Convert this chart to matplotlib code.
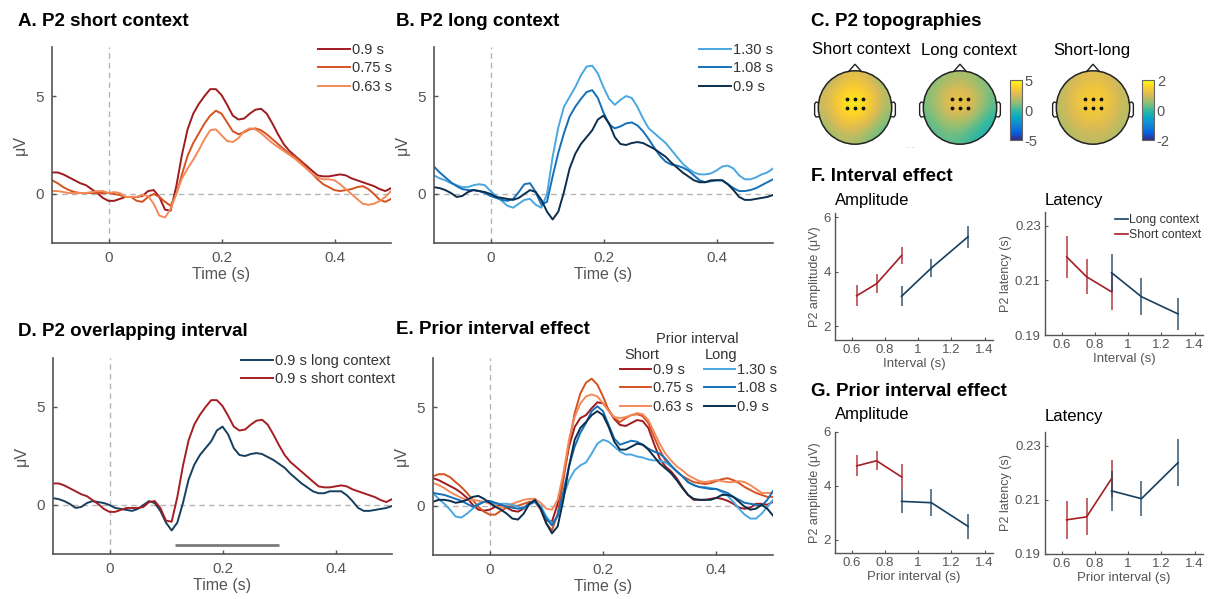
import numpy as np
import matplotlib
matplotlib.use('Agg')
import matplotlib.pyplot as plt
from matplotlib.colors import LinearSegmentedColormap
from matplotlib.patches import Circle, Polygon

plt.rcParams['font.family'] = ['Liberation Sans', 'DejaVu Sans']
plt.rcParams['axes.unicode_minus'] = False

# ---------------- data ----------------
time = np.linspace(-0.1, 0.5, 61)

# A. short context (current interval)
short_09 = [1.1, 1.1, 1.0, 0.85, 0.7, 0.55, 0.45, 0.25, 0.05, -0.2,
            -0.35, -0.35, -0.25, -0.15, -0.15, -0.15, -0.1, 0.15, 0.2, -0.15,
            -0.8, -0.85, 0.4, 2.0, 3.3, 4.1, 4.6, 5.0, 5.35, 5.35,
            5.05, 4.55, 4.0, 3.8, 3.85, 4.1, 4.3, 4.35, 4.1, 3.6,
            3.05, 2.55, 2.2, 1.95, 1.7, 1.45, 1.2, 0.95, 0.9, 0.9,
            0.95, 1.0, 0.95, 0.8, 0.7, 0.6, 0.5, 0.4, 0.25, 0.15, 0.3]
short_075 = [0.7, 0.55, 0.35, 0.2, 0.1, 0.05, 0.05, 0.05, 0.05, 0.05,
             0.05, 0, -0.05, -0.15, -0.15, -0.35, -0.4, -0.15, 0, -0.15,
             -0.4, -0.6, 0.0, 1.0, 1.95, 2.6, 3.1, 3.6, 4.0, 4.25,
             4.1, 3.65, 3.2, 3.05, 3.15, 3.3, 3.35, 3.25, 3.05, 2.8,
             2.55, 2.3, 2.05, 1.9, 1.65, 1.35, 1.05, 0.75, 0.5, 0.35,
             0.2, 0.15, 0.2, 0.25, 0.35, 0.4, 0.25, 0, -0.3, -0.4, -0.25]
short_063 = [0.15, 0.15, 0.1, 0.05, 0.05, 0.05, 0.05, 0.1, 0.15, 0.15,
             0.05, 0.1, 0.05, -0.15, -0.15, -0.15, -0.05, -0.1, -0.5, -1.1,
             -1.2, -0.75, 0.0, 0.8, 1.3, 1.75, 2.25, 2.8, 3.25, 3.3,
             3.0, 2.7, 2.65, 2.85, 3.2, 3.35, 3.3, 3.1, 2.85, 2.6,
             2.4, 2.2, 2.0, 1.8, 1.55, 1.3, 1.05, 0.85, 0.75, 0.75,
             0.7, 0.5, 0.25, 0, -0.25, -0.5, -0.55, -0.5, -0.35, -0.15, 0.15]

# B. long context (current interval)
long_130 = [0.95, 0.8, 0.7, 0.55, 0.45, 0.35, 0.35, 0.45, 0.5, 0.45,
            0.15, -0.1, -0.35, -0.6, -0.7, -0.5, -0.3, -0.25, -0.55, -0.7,
            0.0, 1.9, 3.4, 4.45, 4.95, 5.45, 6.05, 6.5, 6.55, 6.15,
            5.45, 4.85, 4.55, 4.8, 5.0, 4.9, 4.45, 3.85, 3.35, 3.1,
            2.85, 2.6, 2.25, 1.9, 1.55, 1.3, 1.1, 1.0, 1.0, 1.05,
            1.2, 1.4, 1.45, 1.3, 0.95, 0.75, 0.75, 0.85, 1.0, 1.1, 1.3]
long_108 = [1.4, 1.1, 0.85, 0.6, 0.4, 0.25, 0.2, 0.2, 0.15, 0.05,
            -0.1, -0.2, -0.3, -0.35, -0.25, 0.1, 0.5, 0.55, 0.1, -0.55,
            -0.4, 0.9, 2.1, 3.1, 3.95, 4.45, 4.85, 5.2, 5.3, 4.9,
            4.15, 3.55, 3.35, 3.45, 3.6, 3.65, 3.5, 3.2, 2.8, 2.35,
            1.95, 1.65, 1.5, 1.45, 1.35, 1.2, 0.95, 0.7, 0.6, 0.65,
            0.7, 0.7, 0.5, 0.3, 0.15, 0.15, 0.2, 0.3, 0.45, 0.6, 0.75]
long_09 = [0.35, 0.3, 0.2, 0.05, -0.15, -0.1, 0.1, 0.2, 0.15, 0.1,
           0, -0.15, -0.2, -0.25, -0.3, -0.2, 0, 0.2, 0.1, -0.3,
           -0.9, -1.3, -0.9, 0.1, 1.3, 2.05, 2.55, 2.9, 3.25, 3.8,
           4.0, 3.6, 2.9, 2.55, 2.5, 2.6, 2.65, 2.6, 2.45, 2.3,
           2.1, 1.9, 1.6, 1.35, 1.1, 0.9, 0.7, 0.6, 0.6, 0.7,
           0.7, 0.7, 0.5, 0.2, -0.15, -0.3, -0.3, -0.25, -0.2, -0.15, -0.05]

# E. sorted by prior interval
prior_short_09 = [1.4, 1.3, 1.15, 1.0, 0.85, 0.65, 0.4, 0.05, -0.2, -0.25,
                  -0.2, -0.05, 0.05, -0.1, -0.25, -0.3, -0.15, 0.15, 0.25, -0.15,
                  -0.75, -0.8, 0.1, 1.45, 3.0, 4.0, 4.45, 4.6, 4.95, 5.25,
                  5.2, 4.85, 4.4, 4.1, 4.05, 4.2, 4.35, 4.3, 3.95, 3.15,
                  2.4, 2.0, 1.75, 1.4, 0.95, 0.55, 0.3, 0.3, 0.3, 0.35,
                  0.4, 0.35, 0.25, 0.1, -0.1, -0.15, -0.1, 0.1, 0.1, 0.05, 0.2]
prior_short_075 = [1.5, 1.6, 1.6, 1.45, 1.2, 0.95, 0.65, 0.3, -0.05, -0.3,
                   -0.45, -0.45, -0.25, -0.1, 0, 0, 0.1, 0.2, 0.2, -0.2,
                   -0.9, -1.25, -0.4, 1.3, 3.15, 4.7, 5.7, 6.25, 6.45, 6.15,
                   5.55, 4.85, 4.45, 4.25, 4.45, 4.6, 4.65, 4.55, 4.2, 3.5,
                   2.85, 2.3, 2.0, 1.75, 1.5, 1.35, 1.2, 1.15, 1.1, 1.15,
                   1.25, 1.35, 1.4, 1.3, 1.15, 0.95, 0.8, 0.65, 0.55, 0.45, 0.45]
prior_short_063 = [1.15, 1.05, 0.9, 0.7, 0.55, 0.4, 0.3, 0.3, 0.25, 0.2,
                   0.1, 0, -0.1, 0, 0.1, 0.2, 0.3, 0.35, 0.35, 0.15,
                   -0.15, -0.2, 0.3, 1.65, 3.35, 4.5, 5.2, 5.55, 5.65, 5.55,
                   5.2, 4.8, 4.5, 4.45, 4.5, 4.6, 4.7, 4.65, 4.35, 3.75,
                   3.15, 2.65, 2.3, 2.0, 1.8, 1.55, 1.4, 1.25, 1.2, 1.25,
                   1.3, 1.25, 1.2, 1.2, 1.25, 1.2, 1.05, 0.85, 0.65, 0.65, 0.65]
prior_long_130 = [0.65, 0.35, 0.1, -0.2, -0.55, -0.6, -0.4, -0.15, 0.1, 0.2,
                  0.2, 0.1, 0.1, 0.1, 0.05, -0.05, -0.15, 0.05, 0.2, 0,
                  -0.55, -0.9, -0.55, 0.45, 1.3, 1.8, 2.05, 2.2, 2.65, 3.15,
                  3.35, 3.25, 3.0, 2.75, 2.6, 2.6, 2.5, 2.45, 2.35, 2.3,
                  2.3, 2.2, 2.0, 1.75, 1.5, 1.2, 1.05, 0.95, 0.95, 0.9,
                  0.85, 0.7, 0.5, 0.2, -0.15, -0.45, -0.65, -0.65, -0.4, -0.05, 0.3]
prior_long_108 = [0.65, 0.6, 0.55, 0.45, 0.35, 0.25, 0.1, -0.05, 0.05, 0.2,
                  0.25, 0.15, 0.05, -0.05, -0.1, -0.15, -0.1, 0.1, 0.2, -0.1,
                  -0.65, -1.0, -0.5, 0.7, 2.0, 3.0, 3.7, 4.2, 4.8, 5.05,
                  4.8, 4.1, 3.4, 3.1, 3.2, 3.3, 3.25, 3.1, 2.9, 2.75,
                  2.65, 2.4, 2.05, 1.75, 1.5, 1.2, 1.05, 0.95, 0.9, 0.85,
                  0.85, 0.75, 0.65, 0.45, 0.3, 0.15, 0.1, 0.05, 0, 0.3, 0.75]
prior_long_09 = [0.2, 0.3, 0.3, 0.25, 0.15, 0.2, 0.3, 0.45, 0.5, 0.35,
                 0.15, -0.05, -0.2, -0.4, -0.65, -0.7, -0.4, 0.1, 0.3, -0.15,
                 -0.9, -1.4, -1.05, 0.3, 2.0, 3.35, 3.95, 4.25, 4.6, 4.8,
                 4.6, 4.0, 3.25, 2.85, 2.85, 3.0, 3.15, 3.1, 2.85, 2.5,
                 2.15, 1.9, 1.65, 1.3, 0.9, 0.55, 0.35, 0.3, 0.3, 0.3,
                 0.4, 0.55, 0.55, 0.45, 0.2, -0.05, -0.2, -0.15, 0.05, -0.15, -0.5]

sig_window = [0.116, 0.30]
sig_level = -2.05

# C. topographies (coarse grids, top row = front of head)
topo_short = [[1.2, 2.4, 3.0, 2.2, 1.0],
              [2.2, 3.8, 4.3, 3.7, 1.8],
              [2.2, 4.1, 4.8, 3.9, 1.6],
              [1.6, 3.2, 3.5, 2.6, 0.8],
              [1.0, 1.8, 1.8, 1.0, 0.2]]
topo_long = [[0.8, 1.4, 1.7, 1.3, 0.6],
             [1.1, 2.5, 3.0, 2.3, 0.8],
             [0.9, 2.7, 3.4, 2.5, 0.4],
             [0.5, 1.5, 1.8, 0.9, -0.4],
             [0.2, 0.6, 0.5, -0.2, -1.0]]
topo_diff = [[0.7, 1.0, 1.1, 1.0, 0.7],
             [0.8, 1.3, 1.45, 1.35, 0.8],
             [0.8, 1.35, 1.5, 1.35, 0.8],
             [0.7, 1.1, 1.2, 1.1, 0.7],
             [0.6, 0.8, 0.8, 0.8, 0.6]]
elec_x = [-0.22, 0, 0.22, -0.22, 0, 0.22]
elec_y = [0.23, 0.23, 0.23, -0.01, -0.01, -0.01]

# F / G. interval effects
short_ints = [0.63, 0.75, 0.9]
long_ints = [0.9, 1.08, 1.3]
F_amp_short = [3.12, 3.56, 4.59]
F_amp_short_err = [0.38, 0.35, 0.32]
F_amp_long = [3.1, 4.14, 5.28]
F_amp_long_err = [0.36, 0.32, 0.40]
F_lat_short = [0.2186, 0.2113, 0.2058]
F_lat_short_err = [0.0077, 0.0064, 0.0067]
F_lat_long = [0.2128, 0.2040, 0.1977]
F_lat_long_err = [0.0070, 0.0067, 0.0058]
G_amp_short = [4.74, 4.93, 4.33]
G_amp_short_err = [0.39, 0.35, 0.48]
G_amp_long = [3.42, 3.37, 2.49]
G_amp_long_err = [0.44, 0.50, 0.46]
G_lat_short = [0.2026, 0.2037, 0.2178]
G_lat_short_err = [0.0069, 0.0068, 0.0068]
G_lat_long = [0.2133, 0.2104, 0.2237]
G_lat_long_err = [0.0074, 0.0065, 0.0086]

# colours
c_short = ['#9e1b20', '#d6521f', '#f48a5a']   # 0.9, 0.75, 0.63
c_long = ['#4aa7e2', '#1570b8', '#0b2e4e']    # 1.30, 1.08, 0.9
red = '#a51e23'
navy = '#163f5f'
grey = '#555555'
parula = LinearSegmentedColormap.from_list(
    'parula', ['#352a87', '#0363e1', '#1485d4', '#06a7c6', '#38b99e',
               '#92bf73', '#d9ba56', '#fcce2e', '#f9fb0e'])

# ---------------- figure ----------------
W, H = 1208, 599
fig = plt.figure(figsize=(W / 100, H / 100), dpi=100)


def box(l, t, r, b):
    return [l / W, 1 - b / H, (r - l) / W, (b - t) / H]


def ftext(x, y, s, **kw):
    fig.text(x / W, 1 - y / H, s, **kw)


def erp_panel(rect, curves, colors, labels, anchor, ncol=1):
    ax = fig.add_axes(box(*rect))
    ax.axvline(0, color='#b5b5b5', lw=1, ls=(0, (4, 3)), zorder=0)
    ax.axhline(0, color='#b5b5b5', lw=1, ls=(0, (4, 3)), zorder=0)
    for y, c, lab in zip(curves, colors, labels):
        ax.plot(time, y, color=c, lw=1.4, label=lab)
    ax.set_xlim(-0.1, 0.5)
    ax.set_ylim(-2.5, 7.5)
    ax.set_xticks([0, 0.2, 0.4])
    ax.set_xticklabels(['0', '0.2', '0.4'])
    ax.set_yticks([0, 5])
    for s in ['top', 'right']:
        ax.spines[s].set_visible(False)
    for s in ['left', 'bottom']:
        ax.spines[s].set_color(grey)
        ax.spines[s].set_linewidth(1.2)
    ax.tick_params(direction='in', length=3, width=1, colors=grey, labelsize=11, pad=6)
    ax.set_xlabel('Time (s)', fontsize=11.5, color=grey, labelpad=1)
    ax.set_ylabel('μV', fontsize=11.5, color=grey, labelpad=5)
    leg = ax.legend(loc='upper right', bbox_to_anchor=anchor, frameon=False, fontsize=10.5,
                    handlelength=2.15, handletextpad=0.15, labelspacing=0.3, borderpad=0,
                    borderaxespad=0, ncol=ncol, columnspacing=0.7)
    for t in leg.get_texts():
        t.set_color('#333333')
    return ax


# A
erp_panel((52, 47, 391, 243), [short_09, short_075, short_063], c_short,
          ['0.9 s', '0.75 s', '0.63 s'], (1.003, 1.02))
ftext(18, 22, 'A. P2 short context', fontsize=13.5, weight='bold', va='center')
# B
erp_panel((434, 47, 773, 243), [long_130, long_108, long_09], c_long,
          ['1.30 s', '1.08 s', '0.9 s'], (1.0, 1.02))
ftext(396, 22, 'B. P2 long context', fontsize=13.5, weight='bold', va='center')
# D
axD = erp_panel((53, 358, 392, 554), [long_09, short_09], [navy, red],
                ['0.9 s long context', '0.9 s short context'], (1.009, 1.02))
axD.plot(sig_window, [sig_level, sig_level], color='#7a7a7a', lw=2, solid_capstyle='butt')
ftext(18, 331, 'D. P2 overlapping interval', fontsize=13.5, weight='bold', va='center')
# E
erp_panel((433, 358, 773, 555),
          [prior_short_09, prior_short_075, prior_short_063,
           prior_long_130, prior_long_108, prior_long_09],
          c_short + c_long,
          ['0.9 s', '0.75 s', '0.63 s', '1.30 s', '1.08 s', '0.9 s'],
          (1.012, 0.975), ncol=2)
ftext(396, 330, 'E. Prior interval effect', fontsize=13.5, weight='bold', va='center')
ftext(697, 339, 'Prior interval', fontsize=10.5, color='#333333', ha='center', va='center')
ftext(624, 355, 'Short', fontsize=10.5, color='#333333', va='center')
ftext(705, 355, 'Long', fontsize=10.5, color='#333333', va='center')

# C. topographies
ftext(811, 21, 'C. P2 topographies', fontsize=13.5, weight='bold', va='center')
R = 36.7
lim = 50 / R


def topo(cx, cy, grid, vmax):
    ax = fig.add_axes(box(cx - 50, cy - 50, cx + 50, cy + 50))
    ax.set_xlim(-lim, lim)
    ax.set_ylim(-lim, lim)
    ax.set_aspect('equal')
    ax.axis('off')
    im = ax.imshow(grid, extent=(-1, 1, -1, 1), cmap=parula, vmin=-vmax, vmax=vmax,
                   interpolation='bicubic', origin='upper')
    im.set_clip_path(Circle((0, 0), 1, transform=ax.transData))
    ax.add_patch(Circle((0, 0), 1, fill=False, ec='#222222', lw=1.1))
    ax.add_patch(Polygon([(-0.17, 0.985), (0, 1.18), (0.17, 0.985)], closed=False,
                         fill=False, ec='#222222', lw=1.0))
    for sgn in (-1, 1):
        ex = [sgn * 0.99, sgn * 1.06, sgn * 1.1, sgn * 1.1, sgn * 1.06, sgn * 0.99]
        ey = [0.13, 0.15, 0.1, -0.2, -0.26, -0.25]
        ax.plot(ex, ey, color='#222222', lw=1.0)
    ax.scatter(elec_x, elec_y, s=3, c='#111111', zorder=3)
    return im


im1 = topo(855, 107.5, topo_short, 5)
im2 = topo(960, 107.5, topo_long, 5)
im3 = topo(1093, 107.5, topo_diff, 2)
ftext(812, 50, 'Short context', fontsize=12, va='center')
ftext(921, 50, 'Long context', fontsize=12, va='center')
ftext(1053, 50, 'Short-long', fontsize=12, va='center')
ftext(911, 146, '. .', fontsize=6, color='#999999', ha='center', va='center')

for im, (l, r), ticks in ((im2, (1010, 1022), [-5, 0, 5]), (im3, (1142, 1154), [-2, 0, 2])):
    cax = fig.add_axes(box(l, 80, r, 140))
    cb = fig.colorbar(im, cax=cax, ticks=ticks)
    cb.ax.tick_params(length=0, labelsize=10.5, colors=grey, pad=2)
    cb.outline.set_edgecolor('#666666')
    cb.outline.set_linewidth(0.8)


# F / G
def effect_panel(rect, sy, se, ly, le, ylim, yticks, yticklabels, ylabel, xlabel):
    ax = fig.add_axes(box(*rect))
    for x, y, e, c in ((short_ints, sy, se, red), (long_ints, ly, le, navy)):
        eb = ax.errorbar(x, y, yerr=e, color=c, lw=1.2, elinewidth=1.2, capsize=0)
        eb[2][0].set_alpha(0.8)
    ax.set_xlim(0.5, 1.45)
    ax.set_xticks([0.6, 0.8, 1.0, 1.2, 1.4])
    ax.set_xticklabels(['0.6', '0.8', '1', '1.2', '1.4'])
    ax.set_ylim(*ylim)
    ax.set_yticks(yticks)
    ax.set_yticklabels(yticklabels)
    for s in ['top', 'right']:
        ax.spines[s].set_visible(False)
    for s in ['left', 'bottom']:
        ax.spines[s].set_color(grey)
        ax.spines[s].set_linewidth(1.0)
    ax.tick_params(direction='in', length=2.5, width=0.8, colors=grey, labelsize=9.5, pad=3)
    ax.set_ylabel(ylabel, fontsize=9, color=grey, labelpad=2)
    ax.set_xlabel(xlabel, fontsize=9.5, color=grey, labelpad=1)
    return ax


ftext(811, 177, 'F. Interval effect', fontsize=13.5, weight='bold', va='center')
ftext(835, 200, 'Amplitude', fontsize=12, va='center')
ftext(1045, 201, 'Latency', fontsize=12, va='center')
effect_panel((835, 213, 993, 340), F_amp_short, F_amp_short_err, F_amp_long, F_amp_long_err,
             (1.5, 6.15), [2, 4, 6], ['2', '4', '6'], 'P2 amplitude (μV)', 'Interval (s)')
axFl = effect_panel((1045, 212, 1203, 335), F_lat_short, F_lat_short_err, F_lat_long,
                    F_lat_long_err, (0.19, 0.235), [0.19, 0.21, 0.23],
                    ['0.19', '0.21', '0.23'], 'P2 latency (s)', 'Interval (s)')
h_long = plt.Line2D([], [], color=navy, lw=1.2)
h_short = plt.Line2D([], [], color=red, lw=1.2)
leg = axFl.legend([h_long, h_short], ['Long context', 'Short context'], loc='upper right',
                  bbox_to_anchor=(0.99, 0.98), frameon=False, fontsize=8.8, handlelength=1.1,
                  handletextpad=0.1, labelspacing=0.2, borderpad=0, borderaxespad=0)
for t in leg.get_texts():
    t.set_color('#333333')

ftext(811, 392, 'G. Prior interval effect', fontsize=13.5, weight='bold', va='center')
ftext(835, 415, 'Amplitude', fontsize=12, va='center')
ftext(1045, 416, 'Latency', fontsize=12, va='center')
effect_panel((835, 432, 993, 553), G_amp_short, G_amp_short_err, G_amp_long, G_amp_long_err,
             (1.5, 6.0), [2, 4, 6], ['2', '4', '6'], 'P2 amplitude (μV)', 'Prior interval (s)')
effect_panel((1045, 432, 1203, 554), G_lat_short, G_lat_short_err, G_lat_long, G_lat_long_err,
             (0.19, 0.235), [0.19, 0.21, 0.23], ['0.19', '0.21', '0.23'],
             'P2 latency (s)', 'Prior interval (s)')

fig.savefig('out.png', dpi=100)
